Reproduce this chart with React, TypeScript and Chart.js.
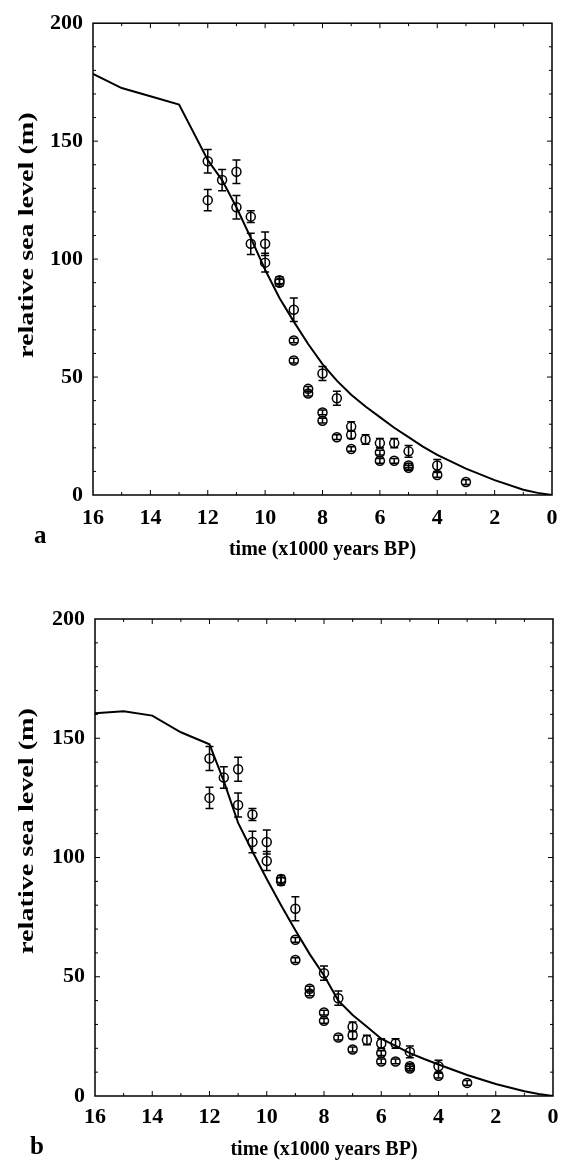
import React, { useEffect, useRef } from 'react';
import { Chart, registerables } from 'chart.js';
Chart.register(...registerables);

// Model curve, panel a
const modelATime = [16, 15, 14, 13, 12, 11.5, 11, 10.5, 10, 9.5, 9, 8.5, 8, 7.5, 7, 6.5, 6, 5.5, 5, 4.5, 4, 3, 2, 1, 0.5, 0];
const modelALevel = [178.5, 172.5, 169, 165.5, 142, 133.5, 122, 109, 95.5, 83.5, 73.5, 64, 55.5, 48.5, 42.5, 37.5, 33, 28.5, 24.5, 20.5, 17, 11.2, 6.3, 2.2, 0.9, 0];

// Model curve, panel b
const modelBTime = [16, 15, 14, 13, 12, 11.5, 11, 10.5, 10, 9.5, 9, 8.5, 8, 7.5, 7, 6.5, 6, 5.5, 5, 4.5, 4, 3, 2, 1, 0.5, 0];
const modelBLevel = [160.5, 161.3, 159.5, 152.5, 147.5, 132, 114.5, 102.5, 91, 80, 69.5, 59.5, 50.5, 40, 34, 29, 24, 21, 18, 15.5, 13.2, 8.8, 5, 2, 0.8, 0];

// Observed relative sea level with error bars (same in both panels)
const obsTime = [12, 12, 11.5, 11, 11, 10.5, 10.5, 10, 10, 9.5, 9.5, 9, 9, 9, 8.5, 8.5, 8, 8, 8, 7.5, 7.5, 7, 7, 7, 6.5, 6, 6, 6, 5.5, 5.5, 5, 5, 5, 4, 4, 3];
const obsLevel = [141.5, 125, 133.5, 137, 122, 118, 106.5, 106.5, 98.5, 91, 90, 78.5, 65.5, 57, 45, 43, 51.5, 35, 31.5, 41, 24.5, 29, 25.5, 19.5, 23.5, 22, 18, 14.5, 22, 14.5, 18.5, 12.5, 11.5, 12.5, 8.5, 5.5];
const obsError = [5, 4.5, 4.5, 5, 5, 2.5, 4.5, 5, 4, 1.5, 1.5, 5, 1, 1, 1, 1, 3, 1, 1, 3, 1, 2, 1.5, 1, 2, 2, 1, 1, 2, 1, 2.5, 1, 1, 2.5, 1, 1];

const xTitle = 'time (x1000 years BP)';
const yTitle = 'relative sea level (m)';
const FONT = '"Liberation Serif", "Times New Roman", serif';

type PanelProps = {
  label: string;
  modelTime: number[];
  modelLevel: number[];
  height: number;
  top: number;
  padTop: number;
  padRight: number;
  yWidth: number;
  xHeight: number;
  xTitlePad: number;
  xTickPad: number;
  labelX: number;
  labelY: number;
};

function Panel(p: PanelProps) {
  const ref = useRef<HTMLCanvasElement | null>(null);
  useEffect(() => {
    if (!ref.current) return;
    const framePlugin = {
      id: 'frame',
      afterDatasetsDraw(chart: any) {
        const { ctx, chartArea: a, scales } = chart;
        const xs = scales.x, ys = scales.y;
        ctx.save();
        // error bars
        ctx.strokeStyle = '#000';
        ctx.lineWidth = 1.5;
        for (let i = 0; i < obsTime.length; i++) {
          const px = xs.getPixelForValue(obsTime[i]);
          const y1 = ys.getPixelForValue(obsLevel[i] - obsError[i]);
          const y2 = ys.getPixelForValue(obsLevel[i] + obsError[i]);
          ctx.beginPath();
          ctx.moveTo(px, y1); ctx.lineTo(px, y2);
          ctx.moveTo(px - 4, y1); ctx.lineTo(px + 4, y1);
          ctx.moveTo(px - 4, y2); ctx.lineTo(px + 4, y2);
          ctx.stroke();
        }
        // box
        ctx.lineWidth = 1.5;
        ctx.strokeRect(a.left, a.top, a.right - a.left, a.bottom - a.top);
        // inward ticks
        ctx.lineWidth = 1;
        ctx.beginPath();
        for (let t = 1; t < 16; t++) {
          const px = xs.getPixelForValue(t);
          const len = t % 2 === 0 ? 5 : 3;
          ctx.moveTo(px, a.bottom); ctx.lineTo(px, a.bottom - len);
          ctx.moveTo(px, a.top); ctx.lineTo(px, a.top + len);
        }
        for (let v = 10; v < 200; v += 10) {
          const py = ys.getPixelForValue(v);
          const len = v % 50 === 0 ? 5 : 3;
          ctx.moveTo(a.left, py); ctx.lineTo(a.left + len, py);
          ctx.moveTo(a.right, py); ctx.lineTo(a.right - len, py);
        }
        ctx.stroke();
        // y-axis title (rotated, stretched along its length like the scan)
        ctx.save();
        ctx.translate(27, a.top + 212);
        ctx.rotate(-Math.PI / 2);
        ctx.scale(1.28, 1);
        ctx.font = 'bold 22px ' + FONT;
        ctx.fillStyle = '#000';
        ctx.textAlign = 'center';
        ctx.textBaseline = 'middle';
        ctx.fillText(yTitle, 0, 0);
        ctx.restore();
        // panel letter
        ctx.fillStyle = '#000';
        ctx.font = 'bold 25px ' + FONT;
        ctx.textAlign = 'left';
        ctx.textBaseline = 'middle';
        ctx.fillText(p.label, p.labelX, p.labelY);
        ctx.restore();
      },
    };
    const chart = new Chart(ref.current, {
      type: 'scatter',
      data: {
        datasets: [
          {
            label: 'model',
            data: p.modelTime.map((t, i) => ({ x: t, y: p.modelLevel[i] })),
            showLine: true,
            borderColor: '#000',
            borderWidth: 2,
            pointRadius: 0,
            tension: 0,
          },
          {
            label: 'observed',
            data: obsTime.map((t, i) => ({ x: t, y: obsLevel[i] })),
            showLine: false,
            pointStyle: 'circle',
            pointRadius: 4.5,
            borderColor: '#000',
            borderWidth: 1.5,
            backgroundColor: 'rgba(0,0,0,0)',
          },
        ],
      },
      options: {
        responsive: false,
        animation: false,
        devicePixelRatio: 1,
        layout: { padding: { left: 0, right: p.padRight, top: p.padTop, bottom: 0 } },
        plugins: { legend: { display: false }, tooltip: { enabled: false } },
        scales: {
          x: {
            type: 'linear',
            min: 0,
            max: 16,
            reverse: true,
            grid: { display: false, drawTicks: false },
            border: { display: false },
            ticks: { stepSize: 2, color: '#000', padding: p.xTickPad, font: { family: FONT, size: 22, weight: 'bold' } },
            title: { display: true, text: xTitle, color: '#000', padding: { top: 0, bottom: p.xTitlePad }, font: { family: FONT, size: 20, weight: 'bold' } },
            afterFit: (s: any) => { s.height = p.xHeight; },
          },
          y: {
            type: 'linear',
            min: 0,
            max: 200,
            grid: { display: false, drawTicks: false },
            border: { display: false },
            ticks: { stepSize: 50, color: '#000', padding: 10, font: { family: FONT, size: 22, weight: 'bold' } },
            title: { display: false, text: yTitle },
            afterFit: (s: any) => { s.width = p.yWidth; },
          },
        },
      },
      plugins: [framePlugin],
    } as any);
    return () => chart.destroy();
  }, []);
  return (
    <canvas
      ref={ref}
      width={569}
      height={p.height}
      style={{ position: 'absolute', left: 0, top: p.top, width: 569, height: p.height }}
    />
  );
}

export default function App() {
  return (
    <div style={{ position: 'absolute', left: 0, top: 0, width: 569, height: 1162, background: '#fff', overflow: 'hidden' }}>
      <Panel label="a" modelTime={modelATime} modelLevel={modelALevel} height={580} top={0}
        padTop={17} padRight={17} yWidth={93} xHeight={85} xTitlePad={18} xTickPad={10} labelX={34} labelY={537} />
      <Panel label="b" modelTime={modelBTime} modelLevel={modelBLevel} height={582} top={580}
        padTop={39} padRight={16} yWidth={95} xHeight={66} xTitlePad={0} xTickPad={8} labelX={30} labelY={568} />
    </div>
  );
}
